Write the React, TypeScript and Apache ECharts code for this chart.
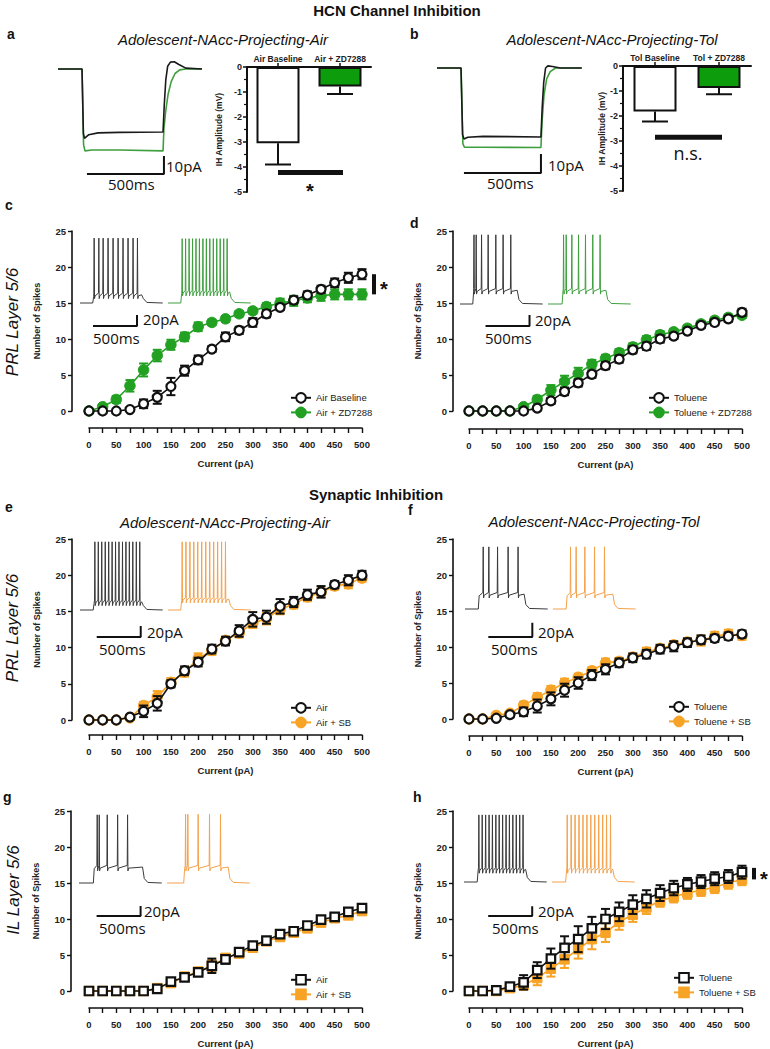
import React, { useEffect, useRef } from "react";
import * as echarts from "echarts";

// ---------------- DATA ----------------
const CURRENTS = [0, 25, 50, 75, 100, 125, 150, 175, 200, 225, 250, 275, 300, 325, 350, 375, 400, 425, 450, 475, 500];
const X_TICK_LABELS = ["0", "50", "100", "150", "200", "250", "300", "350", "400", "450", "500"];

// Panel a / b : Ih amplitude bars
const A_CATEGORIES = ["Air Baseline", "Air + ZD7288"];
const A_MEANS = [-3.05, -0.78];
const A_SEM = [0.85, 0.3];
const A_SIG = [0, 1, -4.22];
const B_CATEGORIES = ["Tol Baseline", "Tol + ZD7288"];
const B_MEANS = [-1.82, -0.88];
const B_SEM = [0.4, 0.25];
const B_SIG = [0, 1, -2.85];

// Panel a / b : current traces (ms, pA)
const A_TRACE_CTRL = [[0, 0], [156, 0], [165, -36], [172, -38.5], [200, -36.5], [260, -35.5], [400, -35.2], [682, -35], [690, -20], [700, -6], [712, 1.5], [730, 3.8], [755, 4], [785, 2.5], [830, 0.5], [935, 0]];
const A_TRACE_ZD = [[0, 0], [156, 0], [166, -42], [175, -45.5], [220, -45], [400, -45], [682, -45.5], [688, -33], [700, -23], [715, -14], [735, -7], [760, -2.5], [790, -0.5], [830, 0], [935, 0]];
const A_SCALEBAR = [[188, -58.3], [688, -58.3], [688, -48.3]];
const B_TRACE_CTRL = [[0, 0], [156, 0], [166, -37], [175, -39.4], [200, -38.5], [300, -38], [675, -38.3], [683, -22], [693, -8], [705, 0], [720, 1.2], [750, 0.8], [800, 0], [940, 0]];
const B_TRACE_ZD = [[0, 0], [156, 0], [168, -42], [178, -44], [300, -44], [675, -44.2], [682, -30], [695, -15], [712, -6], [735, -2], [770, 0], [940, 0]];
const B_SCALEBAR = [[175, -58.3], [675, -58.3], [675, -47.8]];

// Panel c
const C_AIR = [0, 0, 0, 0.2, 1.0, 1.9, 3.4, 5.6, 7.1, 8.6, 10.3, 11.2, 12.3, 13.5, 14.4, 15.4, 16.1, 16.9, 17.8, 18.5, 19.0];
const C_AIR_SEM = [0, 0, 0, 0.2, 0.6, 0.9, 1.2, 0.7, 0.6, 0.4, 0.6, 0.5, 0.6, 0.5, 0.4, 0.5, 0.5, 0.5, 0.6, 0.7, 0.7];
const C_ZD = [0, 0.6, 1.6, 3.5, 5.7, 7.7, 9.2, 10.3, 11.7, 12.3, 12.8, 13.5, 13.9, 14.5, 15.0, 15.3, 15.7, 16.0, 16.2, 16.2, 16.2];
const C_ZD_SEM = [0, 0.2, 0.5, 0.8, 0.9, 0.8, 0.7, 0.6, 0.6, 0.4, 0.4, 0.4, 0.4, 0.5, 0.6, 0.7, 0.6, 0.7, 0.7, 0.7, 0.7];
const C_SIG = [522, 16.2, 19.0];

// Panel d
const D_TOL = [0, 0, 0, 0, 0, 0.4, 1.4, 2.7, 3.9, 5.1, 6.3, 7.2, 8.5, 9.0, 10.0, 10.4, 11.1, 11.9, 12.3, 12.8, 13.7];
const D_TOL_SEM = [0, 0, 0, 0, 0.1, 0.3, 0.4, 0.5, 0.5, 0.5, 0.5, 0.5, 0.5, 0.5, 0.5, 0.4, 0.4, 0.4, 0.4, 0.4, 0.5];
const D_ZD = [0, 0, 0, 0, 0.6, 1.6, 2.9, 4.1, 5.2, 6.5, 7.3, 8.1, 8.9, 9.9, 10.6, 11.0, 11.5, 12.1, 12.6, 13.0, 13.3];
const D_ZD_SEM = [0, 0, 0, 0, 0.3, 0.5, 0.7, 0.8, 0.8, 0.6, 0.5, 0.5, 0.5, 0.5, 0.5, 0.4, 0.4, 0.4, 0.4, 0.4, 0.4];

// Panel e
const E_AIR = [0, 0, 0, 0.4, 1.2, 2.3, 5.0, 6.8, 8.0, 9.8, 10.9, 12.3, 13.9, 14.2, 15.7, 16.3, 17.3, 17.7, 18.7, 19.3, 20.0];
const E_AIR_SEM = [0, 0, 0, 0.2, 0.8, 1.0, 0.5, 0.6, 0.6, 0.6, 0.6, 0.8, 1.0, 0.9, 1.0, 0.7, 0.7, 0.8, 0.5, 0.7, 0.6];
const E_SB = [0, 0, 0, 0.3, 2.0, 3.2, 5.2, 6.6, 8.5, 9.6, 11.0, 12.0, 13.4, 14.0, 15.3, 16.0, 17.0, 17.6, 18.5, 18.8, 19.6];
const E_SB_SEM = [0, 0, 0, 0.2, 0.5, 0.8, 0.6, 0.6, 0.7, 0.6, 0.5, 0.6, 0.7, 0.8, 0.7, 0.6, 0.6, 0.6, 0.5, 0.6, 0.5];

// Panel f
const F_TOL = [0, 0, 0.1, 0.6, 1.0, 1.8, 2.8, 4.0, 5.0, 6.1, 6.9, 7.8, 8.5, 9.0, 9.7, 10.1, 10.6, 11.0, 11.2, 11.5, 11.8];
const F_TOL_SEM = [0, 0, 0.1, 0.2, 0.6, 0.9, 0.9, 0.9, 0.8, 0.7, 0.7, 0.6, 0.6, 0.6, 0.6, 0.7, 0.6, 0.6, 0.5, 0.5, 0.5];
const F_SB = [0, 0, 0.5, 0.8, 1.9, 3.0, 4.0, 5.0, 5.8, 6.7, 7.8, 8.0, 8.6, 9.3, 9.8, 10.3, 10.7, 10.9, 11.5, 11.8, 11.6];
const F_SB_SEM = [0, 0, 0.3, 0.3, 0.5, 0.6, 0.6, 0.6, 0.5, 0.5, 0.6, 0.5, 0.5, 0.6, 0.5, 0.5, 0.5, 0.7, 0.6, 0.6, 0.6];

// Panel g
const G_AIR = [0, 0, 0, 0, 0, 0.3, 1.3, 1.9, 2.6, 3.5, 4.4, 5.4, 6.3, 7.0, 7.9, 8.3, 9.1, 9.9, 10.3, 11.0, 11.5];
const G_AIR_SEM = [0, 0, 0, 0, 0, 0.2, 0.3, 0.4, 0.5, 1.0, 0.6, 0.5, 0.4, 0.3, 0.3, 0.3, 0.4, 0.4, 0.3, 0.3, 0.3];
const G_SB = [0, 0, 0, 0, 0, 0.4, 1.1, 2.0, 2.7, 3.5, 4.6, 5.2, 6.0, 6.9, 7.5, 8.1, 8.7, 9.5, 10.1, 10.5, 11.1];
const G_SB_SEM = [0, 0, 0, 0, 0, 0.2, 0.3, 0.4, 0.5, 0.8, 0.5, 0.5, 0.4, 0.3, 0.4, 0.4, 0.4, 0.4, 0.3, 0.3, 0.3];

// Panel h
const H_TOL = [0, 0, 0.1, 0.6, 1.2, 2.9, 4.5, 6.0, 7.2, 8.7, 10.0, 11.0, 12.0, 12.8, 13.6, 14.3, 14.8, 15.2, 15.6, 15.9, 16.5];
const H_TOL_SEM = [0, 0, 0.1, 0.3, 1.0, 1.1, 1.4, 1.6, 1.8, 1.6, 1.4, 1.3, 1.3, 1.2, 1.1, 1.0, 0.9, 0.9, 0.9, 0.9, 0.9];
const H_SB = [0, 0, 0, 0.4, 0.8, 1.8, 3.1, 4.4, 5.8, 7.2, 8.1, 9.6, 10.6, 11.6, 12.5, 13.1, 13.6, 14.0, 14.4, 15.0, 15.5];
const H_SB_SEM = [0, 0, 0, 0.3, 0.6, 1.0, 1.1, 1.2, 1.3, 1.4, 1.3, 1.1, 1.0, 0.9, 0.8, 0.8, 0.8, 0.8, 0.8, 0.8, 0.8];
const H_SIG = [522, 15.5, 17.1];

// Inset spike trains: spike times (ms) and step [on, off, plateau mV, peak mV]
const C_CTRL_SPIKES = [162, 215, 264, 320, 377, 434, 490, 547, 604, 654];
const C_CTRL_STEP = [145, 700, -60, 43];
const C_DRUG_SPIKES = [162, 201, 241, 280, 319, 358, 398, 437, 476, 516, 555, 594, 634, 673];
const C_DRUG_STEP = [145, 700, -55, 42];
const D_CTRL_SPIKES = [160, 185, 246, 321, 408, 491, 578];
const D_CTRL_STEP = [145, 650, -50, 52];
const D_DRUG_SPIKES = [178, 208, 272, 348, 427, 510, 593];
const D_DRUG_STEP = [160, 658, -50, 52];
const E_CTRL_SPIKES = [170, 209, 248, 288, 327, 366, 405, 444, 484, 523, 562, 601, 641, 680];
const E_CTRL_STEP = [150, 700, -60, 49];
const E_DRUG_SPIKES = [162, 205, 250, 294, 339, 384, 430, 475, 520, 565, 610, 654];
const E_DRUG_STEP = [145, 690, -55, 49];
const F_CTRL_SPIKES = [208, 272, 371, 491, 604];
const F_CTRL_STEP = [151, 672, -48, 38];
const F_DRUG_SPIKES = [200, 264, 363, 473, 586];
const F_DRUG_STEP = [150, 680, -48, 38];
const G_CTRL_SPIKES = [208, 231, 322, 440, 553];
const G_CTRL_STEP = [163, 722, -46, 49];
const G_DRUG_SPIKES = [212, 238, 355, 484, 609];
const G_DRUG_STEP = [190, 695, -46, 50];
const H_CTRL_SPIKES = [170, 208, 247, 286, 324, 363, 401, 440, 479, 517, 556, 595, 634, 672];
const H_CTRL_STEP = [150, 700, -52, 47];
const H_DRUG_SPIKES = [174, 219, 263, 308, 353, 398, 442, 487, 532, 577, 621, 666];
const H_DRUG_STEP = [155, 690, -52, 47];
const C_SCALEBAR = [[148, -117], [648, -117], [648, -97]];
const D_SCALEBAR = [[290, -115], [790, -115], [790, -95]];
const E_SCALEBAR = [[190, -124], [690, -124], [690, -104]];
const F_SCALEBAR = [[265, -126], [765, -126], [765, -100]];
const G_SCALEBAR = [[200, -135], [700, -135], [700, -117]];
const H_SCALEBAR = [[275, -137], [775, -137], [775, -119]];

// ---------------- STYLE ----------------
const FONT = "'Liberation Sans', Arial, Helvetica, sans-serif";
const SCALE_FONT = "'Open Sans', 'Noto Sans', sans-serif";
const INK = "#111111";
const GREEN_MARK = "#22a022";
const GREEN_BAR = "#0c9c0c";
const GREEN_TRACE = "#3f9f3f";
const ORANGE_MARK = "#f7a325";
const ORANGE_TRACE = "#f4a24c";
const BASELINE_MV = -75;
const TRACE_END_MS = 940;

function buildSpikeTrace(spikes: number[], step: number[], offset: number) {
  const [on, off, plat, peak] = step;
  const pts: number[][] = [[offset, BASELINE_MV], [offset + on, BASELINE_MV], [offset + on + 10, plat - 3]];
  spikes.forEach((t) => {
    pts.push([offset + t - 5, plat + 3], [offset + t - 1, peak], [offset + t + 3, plat - 7], [offset + t + 10, plat - 2]);
  });
  pts.push([offset + off, plat], [offset + off + 20, BASELINE_MV + 8], [offset + off + 60, BASELINE_MV + 1], [offset + TRACE_END_MS, BASELINE_MV]);
  return pts;
}

function errorRender(color: string, capW: number, lw: number, lowerOnly = false) {
  return (params: any, api: any) => {
    const x = api.value(0);
    const lo = api.value(1);
    const hi = api.value(2);
    if (lo === hi) return { type: "group", children: [] };
    const p1 = api.coord([x, lo]);
    const p2 = api.coord([x, hi]);
    const style = { stroke: color, lineWidth: lw };
    const children: any[] = [
      { type: "line", shape: { x1: p1[0], y1: p1[1], x2: p2[0], y2: p2[1] }, style },
      { type: "line", shape: { x1: p2[0] - capW / 2, y1: p2[1], x2: p2[0] + capW / 2, y2: p2[1] }, style },
    ];
    if (!lowerOnly) {
      children.push({ type: "line", shape: { x1: p1[0] - capW / 2, y1: p1[1], x2: p1[0] + capW / 2, y2: p1[1] }, style });
    }
    return { type: "group", children };
  };
}

const axisText = { fontSize: 9.5, fontWeight: "bold", color: "#222", fontFamily: FONT };

function buildOption() {
  const grid: any[] = [];
  const xAxis: any[] = [];
  const yAxis: any[] = [];
  const series: any[] = [];
  const legend: any[] = [];
  const graphic: any[] = [];

  const add = (g: any, xa: any, ya: any) => {
    grid.push(g);
    const i = grid.length - 1;
    xAxis.push({ ...xa, gridIndex: i });
    yAxis.push({ ...ya, gridIndex: i });
    return i;
  };

  const text = (t: string, x: number, y: number, font: string, align = "left", rotation = 0, fill = INK) => {
    graphic.push({
      type: "text", x, y, rotation, silent: true, z: 100,
      style: { text: t, x: 0, y: 0, font, fill, textAlign: align, textVerticalAlign: "middle" },
    });
  };

  // ---------- bar panels ----------
  const addBarPanel = (P: any) => {
    const i = add(
      { left: P.left, top: P.top, width: P.width, height: 125 },
      {
        type: "category", data: P.cats, position: "top",
        axisLine: { show: true, lineStyle: { color: INK, width: 2 } },
        axisTick: { show: true, alignWithLabel: true, length: 4, lineStyle: { color: INK, width: 1.5 } },
        axisLabel: { ...axisText, fontSize: 8.5, margin: 4, interval: 0, hideOverlap: false },
      },
      {
        type: "value", min: -5, max: 0, interval: 1,
        axisLine: { show: true, onZero: false, lineStyle: { color: INK, width: 2 } },
        axisTick: { show: true, length: 4, lineStyle: { color: INK, width: 1.5 } },
        minorTick: { show: true, splitNumber: 2, length: 3, lineStyle: { color: INK, width: 1.2 } },
        axisLabel: { ...axisText, fontSize: 9, margin: 5 },
        splitLine: { show: false },
        name: "IH Amplitude (mV)", nameLocation: "middle", nameGap: P.nameGap,
        nameTextStyle: { ...axisText, fontSize: 8.5 },
      }
    );
    series.push({
      type: "bar", xAxisIndex: i, yAxisIndex: i, barWidth: 43, silent: true,
      data: P.means.map((v: number, k: number) => ({ value: v, itemStyle: { color: k === 0 ? "#ffffff" : GREEN_BAR } })),
      itemStyle: { borderColor: INK, borderWidth: 2 }, z: 2,
    });
    series.push({
      type: "custom", xAxisIndex: i, yAxisIndex: i, silent: true, z: 1,
      data: P.means.map((v: number, k: number) => [k, v, v - P.sem[k]]),
      encode: { x: 0, y: [1, 2] },
      renderItem: errorRender(INK, 26, 2, true),
    });
    series.push({
      type: "custom", xAxisIndex: i, yAxisIndex: i, silent: true, z: 3,
      data: [P.sig], encode: { x: [0, 1], y: 2 },
      renderItem: (params: any, api: any) => {
        const y = api.value(2);
        const a = api.coord([api.value(0), y]);
        const b = api.coord([api.value(1), y]);
        return {
          type: "group",
          children: [
            { type: "line", shape: { x1: a[0], y1: a[1], x2: b[0] + 3, y2: a[1] }, style: { stroke: INK, lineWidth: 5 } },
            {
              type: "text",
              style: { text: P.sigLabel, x: (a[0] + b[0]) / 2 + 1, y: a[1] + P.sigDy, font: P.sigFont, fill: INK, textAlign: "center", textVerticalAlign: "middle" },
            },
          ],
        };
      },
    });
  };

  // ---------- current traces ----------
  const addCurrentTrace = (left: number, top: number, ctrl: number[][], drug: number[][], bar: number[][]) => {
    const i = add(
      { left, top, width: 154, height: 144 },
      { type: "value", min: 0, max: 1000, show: false },
      { type: "value", min: -70, max: 10, show: false }
    );
    series.push({ type: "line", xAxisIndex: i, yAxisIndex: i, data: drug, symbol: "none", silent: true, lineStyle: { color: GREEN_TRACE, width: 1.6 }, z: 2 });
    series.push({ type: "line", xAxisIndex: i, yAxisIndex: i, data: ctrl, symbol: "none", silent: true, lineStyle: { color: "#1a1a1a", width: 1.6 }, z: 3 });
    series.push({ type: "line", xAxisIndex: i, yAxisIndex: i, data: bar, symbol: "none", silent: true, lineStyle: { color: INK, width: 2 }, z: 3 });
  };

  // ---------- spike insets ----------
  const addInset = (left: number, baseY: number, cs: number[], cst: number[], ds: number[], dst: number[], color: string, bar: number[][]) => {
    const i = add(
      { left, top: baseY - 68.75, width: 176, height: 104.5 },
      { type: "value", min: 0, max: 2000, show: false },
      { type: "value", min: -140, max: 50, show: false }
    );
    series.push({ type: "line", xAxisIndex: i, yAxisIndex: i, data: buildSpikeTrace(cs, cst, 0), symbol: "none", silent: true, lineStyle: { color: "#3a3a3a", width: 1 }, z: 2 });
    series.push({ type: "line", xAxisIndex: i, yAxisIndex: i, data: buildSpikeTrace(ds, dst, 1000), symbol: "none", silent: true, lineStyle: { color, width: 1 }, z: 2 });
    series.push({ type: "line", xAxisIndex: i, yAxisIndex: i, data: bar, symbol: "none", silent: true, lineStyle: { color: INK, width: 2 }, z: 2 });
  };

  // ---------- F-I panels ----------
  const addLinePanel = (P: any) => {
    const i = add(
      { left: P.left, top: P.top, width: 273, height: P.height },
      {
        type: "value", min: 0, max: 500, interval: 25, offset: P.xOffset,
        axisLine: { show: true, onZero: false, lineStyle: { color: INK, width: 1.6 } },
        axisTick: { show: true, length: 5, lineStyle: { color: INK, width: 1.4 } },
        axisLabel: { ...axisText, margin: 11, formatter: (v: number) => (X_TICK_LABELS.includes(String(v)) ? String(v) : "") },
        splitLine: { show: false },
        name: "Current (pA)", nameLocation: "middle", nameGap: 30, nameTextStyle: { ...axisText },
      },
      {
        type: "value", min: 0, max: 25, interval: 5, offset: P.yOffset,
        axisLine: { show: true, onZero: false, lineStyle: { color: INK, width: 1.6 } },
        axisTick: { show: true, length: 4, lineStyle: { color: INK, width: 1.4 } },
        axisLabel: { ...axisText, margin: 6 },
        splitLine: { show: false },
        name: "Number of Spikes", nameLocation: "middle", nameGap: 31, nameTextStyle: { ...axisText, fontSize: 9 },
      }
    );
    const pts = (vals: number[]) => CURRENTS.map((x, k) => [x, vals[k]]);
    const errs = (vals: number[], sem: number[]) => CURRENTS.map((x, k) => [x, vals[k] - sem[k], vals[k] + sem[k]]);
    const sq = P.symbol === "rect";
    series.push({ type: "custom", xAxisIndex: i, yAxisIndex: i, silent: true, z: 2, data: errs(P.drug, P.drugSem), encode: { x: 0, y: [1, 2] }, renderItem: errorRender(P.color, 9, 2) });
    series.push({
      type: "line", name: P.drugName + "#" + P.key, xAxisIndex: i, yAxisIndex: i, data: pts(P.drug), silent: true, clip: false,
      symbol: P.symbol, symbolSize: sq ? 9.5 : 10.5,
      itemStyle: { color: P.color, borderColor: P.color, borderWidth: 1 },
      lineStyle: { color: P.color, width: 1.6 }, z: 3,
    });
    series.push({ type: "custom", xAxisIndex: i, yAxisIndex: i, silent: true, z: 4, data: errs(P.ctrl, P.ctrlSem), encode: { x: 0, y: [1, 2] }, renderItem: errorRender(INK, 9, 2) });
    series.push({
      type: "line", name: P.ctrlName + "#" + P.key, xAxisIndex: i, yAxisIndex: i, data: pts(P.ctrl), silent: true, clip: false,
      symbol: P.symbol, symbolSize: sq ? 8.5 : 9,
      itemStyle: { color: "#ffffff", borderColor: INK, borderWidth: 2.2 },
      lineStyle: { color: INK, width: 1.6 }, z: 5,
    });
    if (P.sig) {
      series.push({
        type: "custom", xAxisIndex: i, yAxisIndex: i, silent: true, z: 6, data: [P.sig], encode: { x: 0, y: [1, 2] },
        renderItem: (params: any, api: any) => {
          const x = api.value(0);
          const a = api.coord([x, api.value(1)]);
          const b = api.coord([x, api.value(2)]);
          return {
            type: "group",
            children: [
              { type: "line", shape: { x1: a[0], y1: a[1], x2: b[0], y2: b[1] }, style: { stroke: INK, lineWidth: 4 } },
              { type: "text", style: { text: "*", x: a[0] + 10, y: (a[1] + b[1]) / 2 + 5, font: `bold 20px ${FONT}`, fill: INK, textAlign: "center", textVerticalAlign: "middle" } },
            ],
          };
        },
      });
    }
    legend.push({
      data: [P.ctrlName + "#" + P.key, P.drugName + "#" + P.key],
      left: P.legend[0], top: P.legend[1], orient: "vertical",
      itemGap: 3, itemWidth: 20, itemHeight: 12, selectedMode: false,
      formatter: (name: string) => name.split("#")[0],
      textStyle: { fontSize: 9.5, color: "#222", fontFamily: FONT, padding: [0, 0, 0, 0] },
    });
  };

  // ====== Build panels ======
  addCurrentTrace(58, 51, A_TRACE_CTRL, A_TRACE_ZD, A_SCALEBAR);
  addCurrentTrace(437, 50, B_TRACE_CTRL, B_TRACE_ZD, B_SCALEBAR);
  addBarPanel({ left: 247, top: 67, width: 124, cats: A_CATEGORIES, means: A_MEANS, sem: A_SEM, sig: A_SIG, sigLabel: "*", sigDy: 18, sigFont: `bold 20px ${FONT}`, nameGap: 24 });
  addBarPanel({ left: 623, top: 66, width: 128, cats: B_CATEGORIES, means: B_MEANS, sem: B_SEM, sig: B_SIG, sigLabel: "n.s.", sigDy: 16, sigFont: `18px ${SCALE_FONT}`, nameGap: 14 });

  addInset(80, 303, C_CTRL_SPIKES, C_CTRL_STEP, C_DRUG_SPIKES, C_DRUG_STEP, GREEN_TRACE, C_SCALEBAR);
  addInset(460, 304, D_CTRL_SPIKES, D_CTRL_STEP, D_DRUG_SPIKES, D_DRUG_STEP, GREEN_TRACE, D_SCALEBAR);
  addInset(80, 610, E_CTRL_SPIKES, E_CTRL_STEP, E_DRUG_SPIKES, E_DRUG_STEP, ORANGE_TRACE, E_SCALEBAR);
  addInset(465, 609, F_CTRL_SPIKES, F_CTRL_STEP, F_DRUG_SPIKES, F_DRUG_STEP, ORANGE_TRACE, F_SCALEBAR);
  addInset(79, 883, G_CTRL_SPIKES, G_CTRL_STEP, G_DRUG_SPIKES, G_DRUG_STEP, ORANGE_TRACE, G_SCALEBAR);
  addInset(464, 882, H_CTRL_SPIKES, H_CTRL_STEP, H_DRUG_SPIKES, H_DRUG_STEP, ORANGE_TRACE, H_SCALEBAR);

  addLinePanel({ key: "c", left: 89, top: 231, height: 180, xOffset: 17, yOffset: 17, ctrlName: "Air Baseline", ctrl: C_AIR, ctrlSem: C_AIR_SEM, drugName: "Air + ZD7288", drug: C_ZD, drugSem: C_ZD_SEM, color: GREEN_MARK, symbol: "circle", legend: [285, 387], sig: C_SIG });
  addLinePanel({ key: "d", left: 469, top: 231, height: 180, xOffset: 18, yOffset: 16, ctrlName: "Toluene", ctrl: D_TOL, ctrlSem: D_TOL_SEM, drugName: "Toluene + ZD7288", drug: D_ZD, drugSem: D_ZD_SEM, color: GREEN_MARK, symbol: "circle", legend: [643, 387] });
  addLinePanel({ key: "e", left: 89, top: 539, height: 181, xOffset: 15, yOffset: 17, ctrlName: "Air", ctrl: E_AIR, ctrlSem: E_AIR_SEM, drugName: "Air + SB", drug: E_SB, drugSem: E_SB_SEM, color: ORANGE_MARK, symbol: "circle", legend: [285, 697] });
  addLinePanel({ key: "f", left: 469, top: 539, height: 180, xOffset: 17, yOffset: 16, ctrlName: "Toluene", ctrl: F_TOL, ctrlSem: F_TOL_SEM, drugName: "Toluene + SB", drug: F_SB, drugSem: F_SB_SEM, color: ORANGE_MARK, symbol: "circle", legend: [663, 696] });
  addLinePanel({ key: "g", left: 89, top: 811, height: 181, xOffset: 17, yOffset: 18, ctrlName: "Air", ctrl: G_AIR, ctrlSem: G_AIR_SEM, drugName: "Air + SB", drug: G_SB, drugSem: G_SB_SEM, color: ORANGE_MARK, symbol: "rect", legend: [285, 969] });
  addLinePanel({ key: "h", left: 469, top: 811, height: 181, xOffset: 17, yOffset: 16, ctrlName: "Toluene", ctrl: H_TOL, ctrlSem: H_TOL_SEM, drugName: "Toluene + SB", drug: H_SB, drugSem: H_SB_SEM, color: ORANGE_MARK, symbol: "rect", legend: [668, 967], sig: H_SIG });

  // ====== Texts ======
  const bold15 = `bold 15px ${FONT}`;
  const letter = `bold 14px ${FONT}`;
  const title = `italic 15px ${FONT}`;
  const side = `italic 17px ${FONT}`;
  const scale = `15px ${SCALE_FONT}`;
  text("HCN Channel Inhibition", 397, 10, bold15, "center");
  text("Synaptic Inhibition", 376, 494, bold15, "center");
  text("a", 7, 34, letter);
  text("b", 410, 34, letter);
  text("c", 5, 205, letter);
  text("d", 410, 223, letter);
  text("e", 5, 507, letter);
  text("f", 408, 510, letter);
  text("g", 3, 797, letter);
  text("h", 413, 797, letter);
  text("Adolescent-NAcc-Projecting-Air", 223, 39, title, "center");
  text("Adolescent-NAcc-Projecting-Tol", 612, 39, title, "center");
  text("Adolescent-NAcc-Projecting-Air", 225, 522, title, "center");
  text("Adolescent-NAcc-Projecting-Tol", 594, 521, title, "center");
  text("PRL Layer 5/6", 12, 322, side, "center", Math.PI / 2);
  text("PRL Layer 5/6", 12, 628, side, "center", Math.PI / 2);
  text("IL Layer 5/6", 13, 890, side, "center", Math.PI / 2);
  text("10pA", 166, 166, scale);
  text("500ms", 108, 184, scale);
  text("10pA", 548, 165, scale);
  text("500ms", 487, 183, scale);
  text("20pA", 143, 319, scale);
  text("500ms", 93, 338, scale);
  text("20pA", 535, 320, scale);
  text("500ms", 485, 338, scale);
  text("20pA", 147, 632, scale);
  text("500ms", 99, 649, scale);
  text("20pA", 538, 632, scale);
  text("500ms", 491, 649, scale);
  text("20pA", 144, 911, scale);
  text("500ms", 99, 928, scale);
  text("20pA", 538, 911, scale);
  text("500ms", 492, 928, scale);

  return { animation: false, backgroundColor: "#ffffff", grid, xAxis, yAxis, series, legend, graphic };
}

export default function App() {
  const ref = useRef<HTMLDivElement>(null);
  useEffect(() => {
    document.body.style.margin = "0";
    const chart = echarts.init(ref.current as HTMLDivElement, null, { renderer: "svg" });
    chart.setOption(buildOption() as any);
    return () => chart.dispose();
  }, []);
  return <div ref={ref} style={{ width: 770, height: 1049 }} />;
}
